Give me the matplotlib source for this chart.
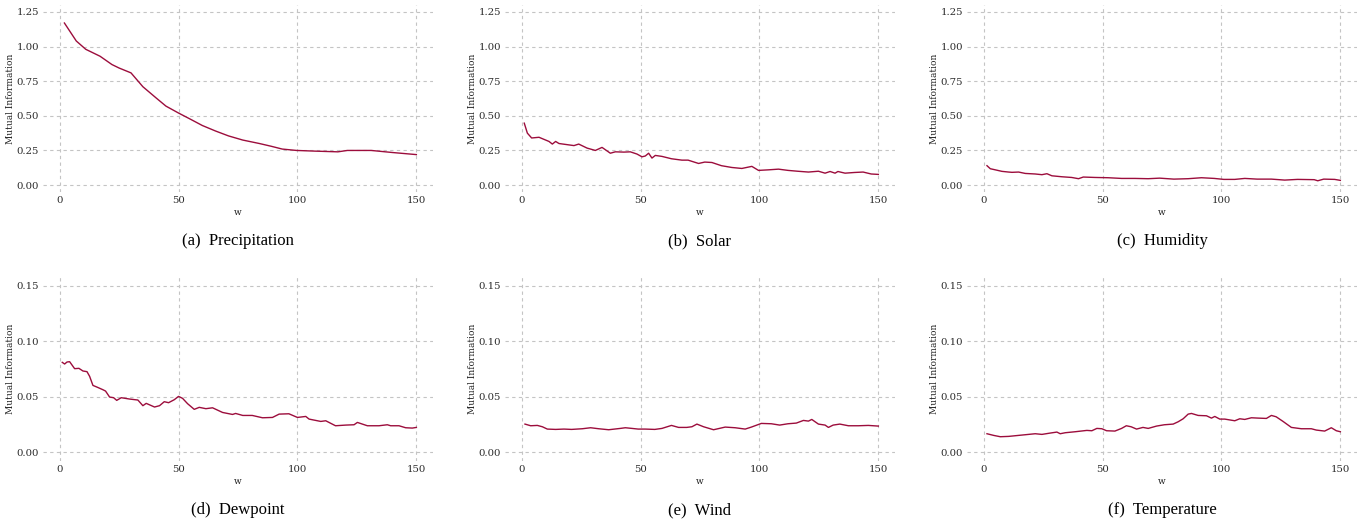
import matplotlib.pyplot as plt
import numpy as np

# mutual information vs window size w
precip_w = [2, 7, 11, 17, 19.5, 22, 25, 30, 35, 40.5, 44.7, 50, 54.5, 60, 65.6, 71, 77, 84, 89,
            93.6, 99.6, 107.5, 117, 121, 131, 140, 150]
precip_mi = [1.17, 1.04, 0.98, 0.93, 0.90, 0.87, 0.845, 0.81, 0.71, 0.63, 0.57, 0.52, 0.48, 0.43,
             0.39, 0.355, 0.325, 0.30, 0.28, 0.26, 0.25, 0.245, 0.24, 0.25, 0.25, 0.235, 0.22]

solar_w = [1.1, 2.4, 4.2, 7.3, 9.4, 11.5, 12.9, 14.3, 15.7, 19.9, 22, 24, 27.5, 31, 33.8, 37.3,
           39.4, 43, 45.7, 48.5, 50.6, 52, 53.4, 54.8, 56.2, 59, 63, 67.4, 70, 74.4, 77, 80, 84,
           88.4, 92.6, 96.8, 99.6, 103.8, 108, 112, 116, 120.6, 124.8, 127.6, 129.7, 131.8, 133,
           136, 140, 143.6, 147, 150]
solar_mi = [0.447, 0.375, 0.34, 0.345, 0.33, 0.315, 0.296, 0.315, 0.30, 0.29, 0.285, 0.296, 0.267,
            0.25, 0.272, 0.23, 0.24, 0.238, 0.24, 0.224, 0.204, 0.21, 0.23, 0.195, 0.214, 0.207,
            0.19, 0.18, 0.18, 0.156, 0.166, 0.163, 0.14, 0.127, 0.12, 0.135, 0.106, 0.11, 0.115,
            0.106, 0.10, 0.094, 0.10, 0.086, 0.098, 0.086, 0.098, 0.086, 0.091, 0.094, 0.08, 0.077]

humid_w = [1.4, 2.8, 4.9, 7.7, 10.5, 11.9, 14.7, 17.5, 21.7, 24.5, 26.6, 28.7, 32.9, 37, 39.9,
           41.9, 46.8, 52.4, 58, 63.6, 69.2, 74, 80, 86, 91.6, 97, 101, 105.6, 109.8, 115, 121,
           126.6, 132, 139, 140.5, 143, 147.6, 150]
humid_mi = [0.14, 0.118, 0.11, 0.099, 0.094, 0.092, 0.094, 0.084, 0.08, 0.075, 0.082, 0.067, 0.06,
            0.055, 0.046, 0.058, 0.055, 0.053, 0.048, 0.048, 0.046, 0.05, 0.043, 0.046, 0.053,
            0.048, 0.041, 0.041, 0.048, 0.043, 0.043, 0.036, 0.041, 0.039, 0.031, 0.043, 0.041,
            0.034]

dew_w = [1.1, 2.1, 3.1, 4.2, 6.3, 8.1, 9.8, 11.5, 12.6, 14, 16, 18.2, 19.3, 21, 22.7, 24, 25.9,
         29.4, 32.9, 35, 36.4, 39.9, 42, 44, 45.8, 48.2, 50, 51.7, 53.8, 56.6, 58.7, 61.5, 64.3,
         68.5, 72.7, 74, 77, 81, 85.3, 89.5, 92.3, 96.4, 100, 103.5, 104.9, 109.8, 111.9, 116,
         120.3, 123.8, 125.2, 129.4, 134.3, 137.8, 139.2, 142.7, 145.5, 148.3, 150]
dew_mi = [0.081, 0.0795, 0.0813, 0.0816, 0.0753, 0.0756, 0.0732, 0.0726, 0.0684, 0.0602, 0.0584,
          0.0563, 0.0551, 0.0497, 0.0491, 0.0467, 0.0491, 0.0479, 0.047, 0.0419, 0.044, 0.0407,
          0.0419, 0.0455, 0.0446, 0.0473, 0.0503, 0.0485, 0.0437, 0.0386, 0.0404, 0.0392, 0.04,
          0.0358, 0.034, 0.0349, 0.0331, 0.0331, 0.031, 0.0313, 0.0343, 0.0346, 0.0313, 0.0322,
          0.0298, 0.0277, 0.0283, 0.0238, 0.0244, 0.0247, 0.0268, 0.0238, 0.0238, 0.0247, 0.0238,
          0.0238, 0.022, 0.0217, 0.0223]

wind_w = [1.4, 3.8, 6.6, 8.7, 10.8, 14.3, 17.8, 21, 25.5, 29, 32.4, 36.6, 41.5, 43.6, 46.4, 49,
          52, 56, 59, 63, 66, 69.4, 71.6, 73.7, 76.5, 80.7, 85.6, 89.8, 94, 96.6, 100.8, 105,
          108.5, 112, 115.5, 118.5, 120.6, 122, 124.8, 127.6, 129, 131, 133.8, 137.4, 141.6,
          145.8, 150]
wind_mi = [0.0253, 0.0238, 0.0241, 0.0229, 0.0208, 0.0205, 0.0208, 0.0205, 0.0211, 0.022, 0.0211,
           0.0202, 0.0214, 0.022, 0.0214, 0.0208, 0.0208, 0.0205, 0.0214, 0.0241, 0.0223, 0.0223,
           0.0229, 0.0253, 0.0229, 0.0202, 0.0226, 0.022, 0.0208, 0.0226, 0.0259, 0.0256, 0.0244,
           0.0256, 0.0262, 0.0286, 0.028, 0.0295, 0.0253, 0.0244, 0.0223, 0.0244, 0.0253, 0.0238,
           0.0238, 0.0241, 0.0235]

temp_w = [1.4, 4.2, 7, 10.5, 13.3, 17.5, 21.7, 24.5, 28, 30.8, 32.2, 34.3, 38.5, 43.4, 45.5,
          47.6, 49.7, 51.7, 55.2, 58, 60, 62, 64.3, 67, 69.2, 72.7, 76, 79.7, 81.8, 83.9, 86,
          87.4, 90.2, 93.7, 95.8, 97.2, 99.3, 101.4, 105.6, 107.7, 109.8, 112.6, 115.4, 118.9,
          121, 123, 125.9, 129.4, 133.6, 137.8, 139.9, 143.4, 146.2, 148.3, 150]
temp_mi = [0.0166, 0.0151, 0.0139, 0.0142, 0.0148, 0.0157, 0.0166, 0.016, 0.0172, 0.0181, 0.0166,
           0.0175, 0.0184, 0.0196, 0.0193, 0.0214, 0.0211, 0.0193, 0.019, 0.0214, 0.0238, 0.0229,
           0.0208, 0.0223, 0.0214, 0.0235, 0.0247, 0.0253, 0.0274, 0.0301, 0.0343, 0.0349,
           0.0331, 0.0328, 0.0307, 0.0322, 0.0298, 0.0298, 0.0283, 0.0301, 0.0295, 0.031,
           0.0307, 0.0304, 0.0331, 0.0319, 0.0277, 0.0223, 0.0211, 0.0211, 0.0199, 0.019, 0.022,
           0.0193, 0.0184]

panels = [
    (precip_w, precip_mi, "(a)  Precipitation"),
    (solar_w, solar_mi, "(b)  Solar"),
    (humid_w, humid_mi, "(c)  Humidity"),
    (dew_w, dew_mi, "(d)  Dewpoint"),
    (wind_w, wind_mi, "(e)  Wind"),
    (temp_w, temp_mi, "(f)  Temperature"),
]

W, H = 1364, 525
fig = plt.figure(figsize=(W / 100, H / 100), dpi=100)
lefts = [43, 505, 967]
line_col = '#9c0d3c'

for i, (w, mi, cap) in enumerate(panels):
    row, col = divmod(i, 3)
    left = lefts[col]
    if row == 0:
        top_px, bot_px = 5, 192
    else:
        top_px, bot_px = 277, 461
    ax = fig.add_axes([left / W, 1 - bot_px / H, 390 / W, (bot_px - top_px) / H])
    ax.plot(w, mi, color=line_col, lw=1.0)
    ax.set_xlim(-7, 157)
    ax.set_xticks([0, 50, 100, 150])
    if row == 0:
        ax.set_ylim(-0.05, 1.30)
        ax.set_yticks([0, 0.25, 0.5, 0.75, 1.0, 1.25])
        ax.set_yticklabels(['0.00', '0.25', '0.50', '0.75', '1.00', '1.25'])
    else:
        ax.set_ylim(-0.008, 0.158)
        ax.set_yticks([0, 0.05, 0.10, 0.15])
        ax.set_yticklabels(['0.00', '0.05', '0.10', '0.15'])
    for s in ax.spines.values():
        s.set_visible(False)
    ax.grid(True, color='#c4c4c4', ls=(0, (3, 3)), lw=0.8)
    ax.set_axisbelow(True)
    ax.tick_params(length=0, labelsize=7.3, labelcolor='#2b2b2b', pad=3)
    for lab in ax.get_xticklabels() + ax.get_yticklabels():
        lab.set_family('DejaVu Serif')
    ax.set_xlabel('w', fontsize=6.5, family='DejaVu Serif', color='#222222', labelpad=2)
    ax.set_ylabel('Mutual Information', fontsize=6.5, family='DejaVu Serif',
                  color='#222222', labelpad=1)
    cap_y = 241 if row == 0 else 510
    fig.text((left + 195) / W, 1 - cap_y / H, cap, ha='center', va='center',
             fontsize=12, family='Liberation Serif')

fig.savefig('out.png', dpi=100)
